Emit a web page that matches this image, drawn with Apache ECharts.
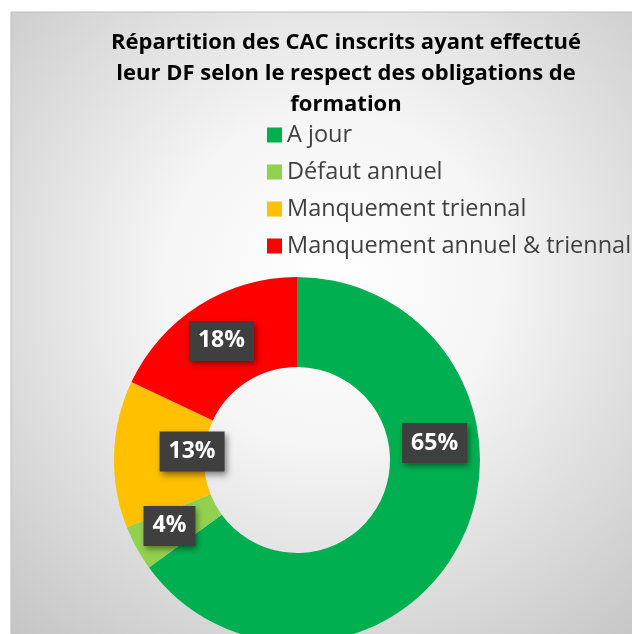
<!DOCTYPE html>
<html>
<head>
<meta charset="utf-8">
<script src="https://cdn.jsdelivr.net/npm/echarts@6/dist/echarts.min.js"></script>
<style>
  html, body { margin: 0; padding: 0; background: #fff; }
  #chart { width: 632px; height: 634px; }
</style>
</head>
<body>
<div id="chart"></div>
<script>
// catégories et parts (%)
var categories = ['A jour', 'Défaut annuel', 'Manquement triennal', 'Manquement annuel & triennal'];
var shares = [65, 4, 13, 18];
var colors = ['#00b050', '#92d050', '#ffc000', '#ff0000'];

var titleText = 'Répartition des CAC inscrits ayant effectué\nleur DF selon le respect des obligations de\nformation';

var myChart = echarts.init(document.getElementById('chart'));

var pieData = categories.map(function (name, i) {
  return { name: name, value: shares[i] };
});

// étiquettes déplacées à la main comme dans l'original
function moveLabel(params) {
  if (params.dataIndex === 0) return { dx: 12, dy: -81 };
  if (params.dataIndex === 2) return { dx: 36, dy: -4 };
  if (params.dataIndex === 1) return { dx: -4, dy: -2 };
  return {};
}

myChart.setOption({
  animation: false,
  color: colors,
  graphic: [{
    type: 'rect',
    silent: true,
    z: -10,
    shape: { x: 11, y: 12, width: 640, height: 640 },
    style: {
      fill: {
        type: 'radial', x: 0.5, y: 0.42, r: 0.75,
        colorStops: [
          { offset: 0, color: '#ffffff' },
          { offset: 0.35, color: '#f5f5f5' },
          { offset: 1, color: '#c4c4c4' }
        ]
      },
      stroke: '#bdbdbd',
      lineWidth: 1
    }
  }],
  title: {
    text: titleText,
    left: 341,
    textAlign: 'center',
    top: 22,
    textStyle: {
      fontFamily: 'Open Sans',
      fontWeight: 'bold',
      fontSize: 22,
      lineHeight: 31,
      color: '#000'
    }
  },
  legend: {
    orient: 'vertical',
    left: 262,
    top: 118,
    icon: 'rect',
    itemWidth: 15,
    itemHeight: 15,
    itemGap: 13,
    data: categories,
    textStyle: {
      fontFamily: 'Open Sans',
      fontSize: 23.5,
      lineHeight: 22,
      color: '#404040'
    }
  },
  series: [{
    type: 'pie',
    center: [297, 460],
    radius: [93, 183],
    startAngle: 90,
    silent: true,
    data: pieData,
    label: {
      show: true,
      position: 'inside',
      formatter: '{c}%',
      fontFamily: 'Open Sans',
      fontWeight: 'bold',
      fontSize: 23,
      color: '#fff',
      backgroundColor: '#3f3f3f',
      padding: [9, 9, 8, 9],
      shadowColor: 'rgba(0,0,0,0.45)',
      shadowBlur: 6,
      shadowOffsetX: 2,
      shadowOffsetY: 3
    },
    labelLine: { show: false },
    labelLayout: moveLabel
  }]
});
</script>
</body>
</html>
